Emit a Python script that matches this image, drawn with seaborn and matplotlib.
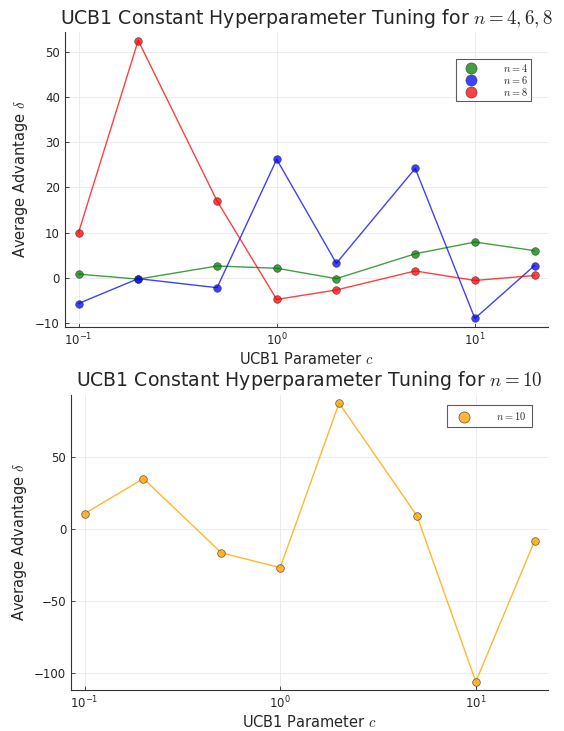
import seaborn as sns
import matplotlib.pyplot as plt
from matplotlib.lines import Line2D
import pandas as pd

# UCB1 constant values
c_vals = [0.1, 0.2, 0.5, 1, 2, 5, 10, 20]

adv_n4 = [0.8, -0.3, 2.6, 2.1, -0.2, 5.3, 7.9, 6.0]
adv_n6 = [-5.7, -0.2, -2.2, 26.2, 3.2, 24.2, -9.0, 2.7]
adv_n8 = [10.0, 52.5, 17.0, -4.8, -2.7, 1.5, -0.6, 0.5]
adv_n10 = [10.4, 34.7, -16.7, -27.0, 87.0, 9.0, -106.0, -8.3]

labels_top = ["$n = 4$", "$n = 6$", "$n = 8$"]
colors_top = ["#008000", "#0000ff", "#ff0000"]
color_n10 = "#ffa500"

sns.set_theme(style="ticks")
plt.rcParams['mathtext.fontset'] = 'cm'
plt.rcParams['font.family'] = ['DejaVu Sans']

df_top = pd.DataFrame({
    "c": c_vals * 3,
    "adv": adv_n4 + adv_n6 + adv_n8,
    "n": [labels_top[0]] * 8 + [labels_top[1]] * 8 + [labels_top[2]] * 8,
})
df_bot = pd.DataFrame({"c": c_vals, "adv": adv_n10})

fig = plt.figure(figsize=(5.64, 7.31), dpi=100)
ax1 = fig.add_axes([0.115, 0.553, 0.857, 0.403])
ax2 = fig.add_axes([0.126, 0.056, 0.846, 0.404])


def style_ax(ax, title):
    ax.set_xscale("log")
    ax.margins(x=0.03, y=0.03)
    ax.grid(True, color="#ececec", linewidth=0.7)
    ax.set_axisbelow(True)
    for s in ["top", "right"]:
        ax.spines[s].set_visible(False)
    for s in ["left", "bottom"]:
        ax.spines[s].set_linewidth(0.8)
        ax.spines[s].set_color("#333333")
    ax.tick_params(direction="in", labelsize=8.5, length=3, width=0.6)
    ax.tick_params(which="minor", length=0)
    ax.set_xlabel("UCB1 Parameter $c$", fontsize=10.5, labelpad=2)
    ax.set_ylabel("Average Advantage $\\delta$", fontsize=10.5)
    ax.set_title(title, fontsize=13.6)


sns.lineplot(data=df_top, x="c", y="adv", hue="n", palette=colors_top,
             marker="o", markersize=5.5, markeredgecolor="#333333",
             markeredgewidth=0.5, linewidth=1.0, alpha=0.75,
             legend=False, ax=ax1)
style_ax(ax1, "UCB1 Constant Hyperparameter Tuning for $n = 4, 6, 8$")
ax1.set_yticks([-10, 0, 10, 20, 30, 40, 50])

h_top = [Line2D([], [], linestyle="none", marker="o", markersize=8,
                markerfacecolor=col, markeredgecolor="#333333",
                markeredgewidth=0.5, alpha=0.75)
         for col in colors_top]
leg1 = ax1.legend(h_top, labels_top, loc="upper right",
                  bbox_to_anchor=(0.965, 0.91), fontsize=7.5,
                  frameon=True, fancybox=False, edgecolor="#333333",
                  borderpad=0.3, handletextpad=2.0, labelspacing=0.0,
                  borderaxespad=0, handlelength=2.2)
leg1.get_frame().set_linewidth(0.8)

sns.lineplot(data=df_bot, x="c", y="adv", color=color_n10,
             marker="o", markersize=5.5, markeredgecolor="#333333",
             markeredgewidth=0.5, linewidth=1.0, alpha=0.8, ax=ax2)
style_ax(ax2, "UCB1 Constant Hyperparameter Tuning for $n = 10$")
ax2.set_yticks([-100, -50, 0, 50])

h_bot = [Line2D([], [], linestyle="none", marker="o", markersize=8,
                markerfacecolor=color_n10, markeredgecolor="#333333",
                markeredgewidth=0.5, alpha=0.8)]
leg2 = ax2.legend(h_bot, ["$n = 10$"], loc="upper right",
                  bbox_to_anchor=(0.965, 0.965), fontsize=7.5,
                  frameon=True, fancybox=False, edgecolor="#333333",
                  borderpad=0.5, handletextpad=2.0, borderaxespad=0,
                  handlelength=2.2)
leg2.get_frame().set_linewidth(0.8)

fig.savefig("out.png", dpi=100)
